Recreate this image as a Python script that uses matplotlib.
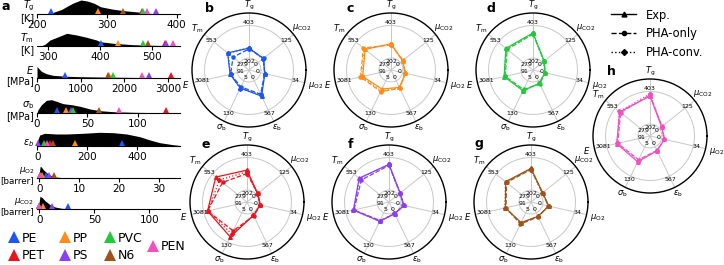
import numpy as np
import matplotlib
matplotlib.use("Agg")
import matplotlib.pyplot as plt
from matplotlib.lines import Line2D

W, H = 724, 265

colors = {"PE": "#1f55f0", "PP": "#ff8c1a", "PVC": "#22c93a", "PEN": "#f050c0",
          "PET": "#e8141e", "PS": "#8a3ff0", "N6": "#a0521a"}
draw_order = ["PE", "PP", "PET", "PS", "PVC", "N6", "PEN"]

# ---- panel a: distributions (x, height) and experimental values of the polymers
tg_x = [200, 215, 222, 235, 251, 263, 272, 282, 291, 300, 310, 325, 340, 349, 358, 370, 385, 400]
tg_h = [0, 0.5, 1.3, 4.5, 10.7, 14, 13, 10.7, 7.3, 6, 4.7, 3.3, 2.3, 1.7, 0.7, 0.4, 0.2, 0.1]
tm_x = [287, 295, 304, 320, 336, 355, 374, 393, 400, 425, 463, 501, 546]
tm_h = [0, 2, 6, 9.3, 12.7, 11, 8.7, 6, 4.3, 2.7, 1.3, 0.7, 0.3]
e_x = [0, 30, 100, 213, 364, 667, 1000, 1425, 2000, 2600, 3150]
e_h = [11.7, 10, 6.7, 4.3, 2.7, 1.7, 1.3, 1.0, 0.7, 0.4, 0.2]
sb_x = [0, 1, 4.4, 9.4, 14.4, 19.4, 26, 34.4, 42.7, 52.7, 62.7, 75.7, 96, 130]
sb_h = [0, 3.3, 8.3, 12.7, 13.3, 11.7, 9.3, 8.3, 6.7, 4, 2.3, 1.3, 0.7, 0.2]
eb_x = [0, 1, 9, 29, 77, 117, 184, 251, 305, 359, 412, 453, 493, 546, 574]
eb_h = [0, 6, 11, 12.7, 12, 12, 12.7, 13.7, 13.3, 12, 9.3, 6, 3.3, 1.3, 0.5]
o2_x = [-0.3, 0, 0.2, 0.5, 1.0, 1.9, 2.7, 4, 6]
o2_h = [0, 6, 11.7, 11, 8.3, 5, 2.7, 1, 0.3]
co2_x = [-1.5, 0, 0.6, 2.5, 5.2, 9.7, 14.3, 20.4, 30]
co2_h = [0, 8, 12.7, 11.5, 8.3, 4.3, 2, 0.7, 0.2]

tg_exp = {"PE": 220, "PP": 287, "N6": 324, "PET": 350, "PVC": 352, "PEN": 357, "PS": 371}
tm_exp = {"PE": 402, "PP": 435, "PVC": 483, "N6": 491, "PET": 524, "PS": 526, "PEN": 539}
e_exp = {"PE": 637, "PP": 1640, "N6": 1632, "PVC": 1733, "PEN": 2400, "PS": 2568, "PET": 3081}
sb_exp = {"PE": 20, "PP": 28.7, "PS": 33.4, "PVC": 36, "N6": 62, "PEN": 81.7, "PET": 128}
eb_exp = {"PS": 2, "PVC": 27, "PEN": 40, "PET": 50, "N6": 63, "PP": 151, "PE": 340}
o2_exp = {"PEN": 0.05, "PET": 0.05, "PVC": 0.05, "PP": 0.6, "PE": 1.7, "PS": 2.4, "N6": 3.8}
co2_exp = {"PEN": 0.1, "PET": 0.1, "PVC": 0.1, "N6": 0.1, "PP": 3, "PS": 11.3, "PE": 26.4}

strips = [
    ("$T_\\mathrm{g}$\n[K]", tg_x, tg_h, (200, 405), [200, 300, 400], tg_exp, 14, 7),
    ("$T_\\mathrm{m}$\n[K]", tm_x, tm_h, (279, 553), [300, 400, 500], tm_exp, 46, 7),
    ("$E$\n[MPa]", e_x, e_h, (0, 3280), [0, 1000, 2000, 3000], e_exp, 78, 7),
    ("$\\sigma_\\mathrm{b}$\n[MPa]", sb_x, sb_h, (0, 142), [0, 50, 100], sb_exp, 113, 7),
    ("$\\epsilon_b$", eb_x, eb_h, (-2, 574), [0, 200, 400], eb_exp, 146, 7),
    ("$\\mu_\\mathrm{O2}$\n[barrer]", o2_x, o2_h, (-0.6, 35.4), [0, 10, 20, 30], o2_exp, 178, 6.3),
    ("$\\mu_\\mathrm{CO2}$\n[barrer]", co2_x, co2_h, (-2.1, 128), [0, 50, 100], co2_exp, 209, 6.3),
]

# ---- radar panels: axes order Tg, muCO2, muO2, eps_b, sigma_b, E, Tm
axis_names = ["$T_\\mathrm{g}$", "$\\mu_\\mathrm{CO2}$", "$\\mu_\\mathrm{O2}$", "$\\epsilon_\\mathrm{b}$",
              "$\\sigma_\\mathrm{b}$", "$E$", "$T_\\mathrm{m}$"]
axis_min = [202, 0, 0, 0, 5, 91, 279]
axis_max = [403, 125, 34, 567, 130, 3081, 553]

exp_vals = {
    "PE": [263, 25, 4.4, 298, 36, 773, 409],
    "PP": [290, 11, 3.0, 129, 40, 1664, 457],
    "PVC": [357, 8.8, 0.2, 50, 47, 1718, 471],
    "PET": [325, 6.6, 1.8, 50, 108, 2713, 515],
    "PS": [361, 8.8, 3.6, 20, 41, 2346, 500],
    "N6": [336, 11, 6.6, 70, 47, 1404, 452],
    "PEN": [375, 11, 3.0, 75, 69, 2136, 505],
}
pha_only = {
    "PE": [258, 26, 4.2, 259, 31, 722, 351],
    "PP": [283, 13, 2.4, 149, 51, 1873, 476],
    "PVC": [350, 8.8, 0.6, 60, 42, 1613, 457],
    "PET": [304, 6.6, 1.8, 60, 82, 2713, 442],
    "PS": [354, 8.8, 3.0, 20, 38, 2295, 476],
    "N6": [329, 11, 6.0, 79, 53, 1350, 442],
    "PEN": [382, 13, 3.0, 70, 60, 2031, 495],
}
pha_conv = {
    "PE": [266, 22, 4.8, 269, 38, 722, 404],
    "PP": [287, 11, 3.0, 139, 47, 1768, 466],
    "PVC": [354, 6.6, 0.2, 50, 49, 1664, 466],
    "PET": [315, 4.4, 1.2, 50, 95, 2662, 476],
    "PS": [361, 6.6, 3.6, 10, 42, 2346, 495],
    "N6": [332, 8.8, 6.6, 70, 49, 1455, 452],
    "PEN": [389, 11, 2.4, 79, 64, 2085, 510],
}

# panel centres in pixels (x, y from top) and letters
panels = [("PE", 249, 70, "b"), ("PP", 391, 70, "c"), ("PVC", 533, 70, "d"),
          ("PET", 247, 202, "e"), ("PS", 389, 202, "f"), ("N6", 531, 202, "g"),
          ("PEN", 650, 136, "h")]
letter_pos = {"b": (209, 8), "c": (350, 8), "d": (491, 8), "e": (206, 145),
              "f": (350, 145), "g": (479, 143), "h": (611, 72)}

R = 57
R_IN, R_MID = 0.21, 0.78


def fig_rect(x, y_top, w, h):
    return [x / W, 1 - (y_top + h) / H, w / W, h / H]


def to_r(vals):
    v = np.array(vals, dtype=float)
    lo = np.array(axis_min, dtype=float)
    hi = np.array(axis_max, dtype=float)
    return R_IN + (R_MID - R_IN) * (v - lo) / (hi - lo)


fig = plt.figure(figsize=(W / 100, H / 100), dpi=100)

# ---------------- panel a
for label, xs, hs, xlim, ticks, vals, base, lfs in strips:
    ax = fig.add_axes(fig_rect(37, base - 14.5, 143, 14.5))
    ax.fill_between(xs, 0, hs, color="black", lw=0)
    for p in draw_order:
        if p in vals:
            ax.plot(vals[p], 3.0, "^", color=colors[p], ms=4.6, mew=0, clip_on=False, zorder=5)
    ax.set_xlim(*xlim)
    ax.set_ylim(0, 14.5)
    ax.set_yticks([])
    ax.set_xticks(ticks)
    ax.tick_params(axis="x", labelsize=7.5, length=3, width=0.8, pad=1.5)
    for s in ["top", "right", "left"]:
        ax.spines[s].set_visible(False)
    ax.spines["bottom"].set_linewidth(0.8)
    ax.patch.set_alpha(0)
    ax.text(-0.018, 0.2, label, transform=ax.transAxes, ha="right", va="center",
            fontsize=lfs, linespacing=1.0)

fig.text(1 / W, 1 - 7 / H, "a", fontsize=9, fontweight="bold", ha="left", va="center")

# polymer legend, one small legend per column
columns = [(["PE", "PET"], 14), (["PP", "PS"], 65), (["PVC", "N6"], 110), (["PEN"], 153)]
for names, xc in columns:
    handles = [Line2D([], [], ls="none", marker="^", ms=9, mew=0, color=colors[n]) for n in names]
    leg = fig.legend(handles, names, loc="center left",
                     bbox_to_anchor=((xc - 6.5) / W, 1 - 247 / H), frameon=False,
                     fontsize=9, handlelength=1.0, handletextpad=0.15, borderpad=0,
                     borderaxespad=0, labelspacing=0.35)

# ---------------- radar panels
angles = np.deg2rad(90 - np.arange(7) * 360 / 7)
name_r = [1.14, 1.19, 1.19, 1.12, 1.12, 1.14, 1.16]
circle = np.linspace(0, 2 * np.pi, 200)
for poly, cx, cy, letter in panels:
    ax = fig.add_axes(fig_rect(cx - R, cy - R, 2 * R, 2 * R), projection="polar")
    ax.set_ylim(0, 1)
    ax.set_xticks([])
    ax.set_yticks([])
    ax.grid(False)
    ax.spines["polar"].set_linewidth(1.0)
    for rr in (R_IN, R_MID):
        ax.plot(circle, np.full_like(circle, rr), color="#c8c8c8", lw=0.7, zorder=1)
    for i, a in enumerate(angles):
        ax.plot([a, a], [0, 1], color="#c8c8c8", lw=0.7, zorder=1)
        ax.text(a, 0.84, str(axis_max[i]), fontsize=4.5, ha="center", va="center", zorder=2)
        ax.text(a, 0.15, str(axis_min[i]), fontsize=4.5, ha="center", va="center", zorder=2)
        ax.text(a, name_r[i], axis_names[i], fontsize=6, ha="center", va="center", clip_on=False)
    th = np.append(angles, angles[0])
    c = colors[poly]
    for data, ls, mk, ms in [(exp_vals, "-", "^", 2.6), (pha_only, "--", "o", 2.2),
                             (pha_conv, ":", "D", 2.0)]:
        r = to_r(data[poly])
        ax.plot(th, np.append(r, r[0]), ls=ls, marker=mk, ms=ms, color=c, lw=0.9,
                clip_on=False, zorder=3)
    lx, ly = letter_pos[letter]
    fig.text(lx / W, 1 - ly / H, letter, fontsize=9, fontweight="bold", ha="center", va="center")

# method legend
method_handles = [Line2D([], [], color="black", ls="-", marker="^", ms=3.5, lw=1),
                  Line2D([], [], color="black", ls="--", marker="o", ms=3.0, lw=1),
                  Line2D([], [], color="black", ls=":", marker="D", ms=3.0, lw=1)]
fig.legend(method_handles, ["Exp.", "PHA-only", "PHA-conv."], loc="upper left",
           bbox_to_anchor=(611 / W, 1 - 8.5 / H), frameon=False, fontsize=8.3,
           handlelength=2.2, handletextpad=0.85, borderpad=0, borderaxespad=0)

fig.savefig("out.png", dpi=100)
